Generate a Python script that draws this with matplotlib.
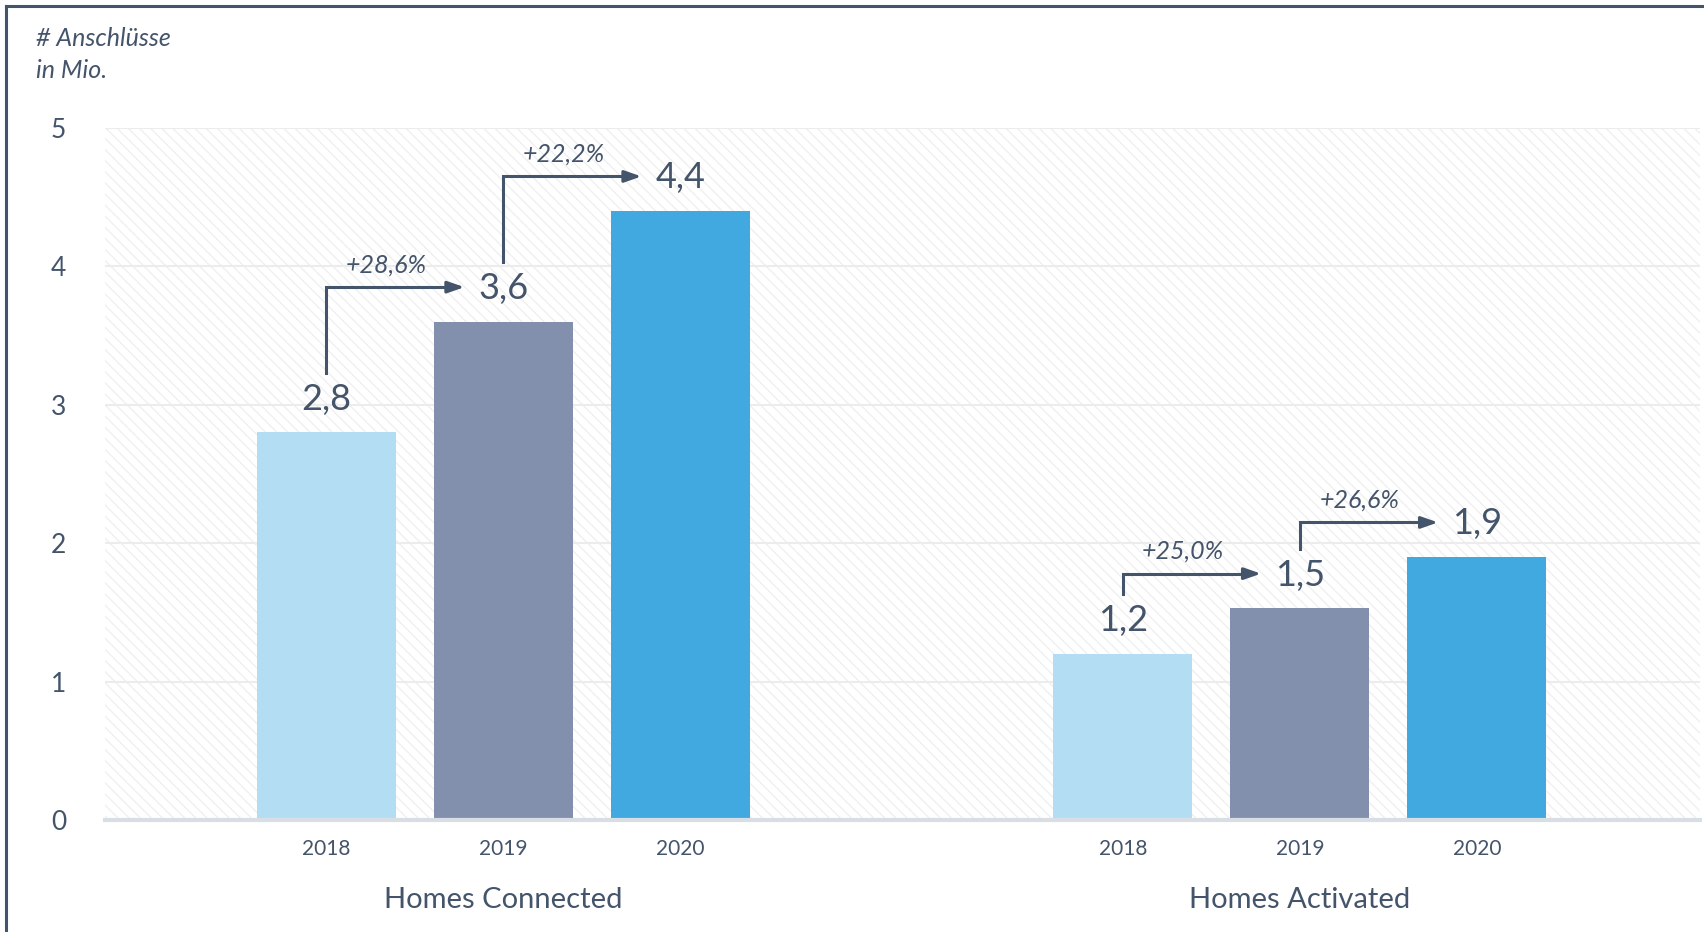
import numpy as np
import matplotlib
matplotlib.use("Agg")
from matplotlib import pyplot as plt
from matplotlib.patches import Rectangle
from matplotlib.lines import Line2D

plt.rcParams['font.family'] = ['Lato', 'DejaVu Sans']
plt.rcParams['hatch.linewidth'] = 1.0

# data
groups = ["Homes Connected", "Homes Activated"]
years = ["2018", "2019", "2020"]
connected = [2.8, 3.6, 4.4]
activated = [1.2, 1.53, 1.9]
growth_connected = ["+28,6%", "+22,2%"]
growth_activated = ["+25,0%", "+26,6%"]

colors = ["#b3ddf2", "#8290ad", "#42a9e0"]
text_col = "#44546a"

fig = plt.figure(figsize=(17.04, 9.32), dpi=100)
ax = fig.add_axes([105 / 1704, 112 / 932, 1595 / 1704, 692 / 932])

# hatched background
bg = Rectangle((0, 0), 1, 1, transform=ax.transAxes, facecolor="white",
               edgecolor="#f0f0f0", hatch="\\\\\\", lw=0, zorder=0)
ax.add_patch(bg)

for yv in [1, 2, 3, 4, 5]:
    ax.axhline(yv, color="#ececec", lw=1.5, zorder=1)
ax.axhline(0, color="#d9dee5", lw=3, zorder=3, clip_on=False)

offsets = [0, 4.5]
all_x = []
for g, (vals, growth, off) in enumerate(zip([connected, activated],
                                             [growth_connected, growth_activated],
                                             offsets)):
    x = off + np.arange(len(vals))
    all_x.extend(x)
    ax.bar(x, vals, width=0.785, color=colors, zorder=2)
    for xi, v in zip(x, vals):
        ax.text(xi, v + 0.24, f"{v:.1f}".replace(".", ","), ha="center",
                va="center", fontsize=26, color=text_col)
    for i, lab in enumerate(growth):
        x0 = x[i]
        y0 = vals[i] + 0.43
        y1 = vals[i + 1] + 0.25
        x1 = x[i + 1] - 0.22
        ax.plot([x0, x0, x1 - 0.08], [y0, y1, y1], color=text_col, lw=2.2,
                solid_joinstyle="miter", zorder=4)
        ax.annotate("", xy=(x1, y1), xytext=(x1 - 0.1, y1),
                    arrowprops=dict(arrowstyle="-|>,head_length=1.0,head_width=0.35",
                                    color=text_col, lw=2.2, shrinkA=0, shrinkB=0),
                    zorder=4)
        ax.text(x0 + 0.34, y1 + 0.16, lab, ha="center", va="center",
                fontsize=18, style="italic", color=text_col)
    ax.text(x[1], -0.58, groups[g], ha="center", va="center", fontsize=21,
            color=text_col, clip_on=False)

ax.set_xlim(-1.25, 7.76)
ax.set_ylim(0, 5)
ax.set_xticks(all_x, years * 2)
ax.set_yticks([0, 1, 2, 3, 4, 5])
ax.tick_params(axis="x", length=0, pad=14, labelsize=15, labelcolor=text_col)
ax.tick_params(axis="y", length=0, pad=28, labelsize=19, labelcolor=text_col)
for s in ax.spines.values():
    s.set_visible(False)
ax.set_facecolor("white")

fig.text(36 / 1704, 1 - 38 / 932, "# Anschlüsse", ha="left", va="center",
         fontsize=18, style="italic", color=text_col)
fig.text(36 / 1704, 1 - 70 / 932, "in Mio.", ha="left", va="center",
         fontsize=18, style="italic", color=text_col)

# frame lines on top and left
fig.add_artist(Line2D([6 / 1704, 1], [1 - 6 / 932, 1 - 6 / 932], color=text_col, lw=2.2))
fig.add_artist(Line2D([6 / 1704, 6 / 1704], [0, 1 - 6 / 932], color=text_col, lw=2.2))

plt.savefig("out.png", dpi=100)
